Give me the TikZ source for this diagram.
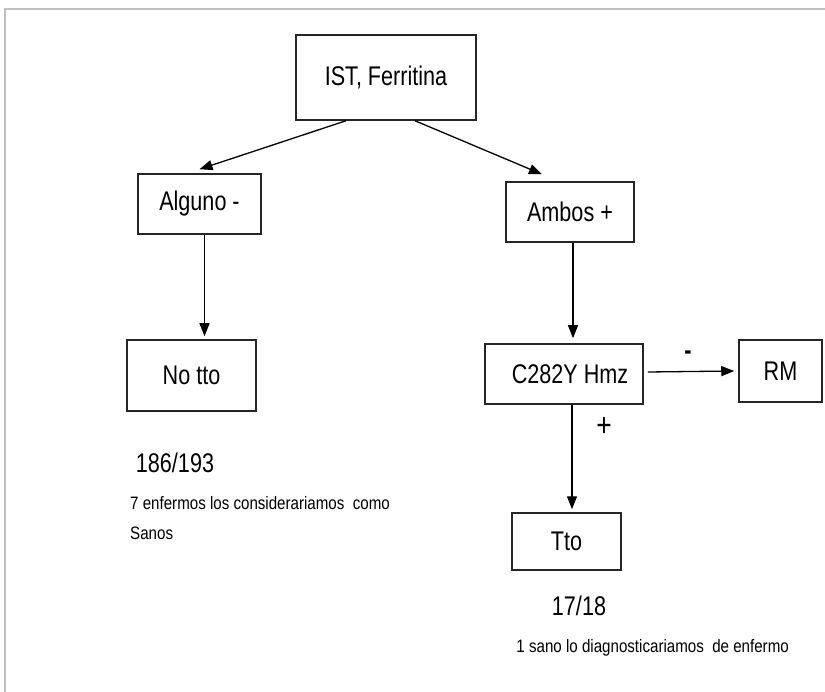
\documentclass[tikz,border=0pt]{standalone}
\usepackage{fontspec}
\setmainfont{Liberation Sans}[FakeStretch=0.8]
\newfontfamily\notefont{Liberation Sans}[FakeStretch=0.84]
\usetikzlibrary{arrows.meta}
\tikzset{
  box/.style={draw=black!85, line width=1.5pt, inner sep=0pt, font=\fontsize{27}{32}\selectfont},
  lbl/.style={inner sep=0pt, font=\fontsize{27}{32}\selectfont},
  note/.style={inner sep=0pt, font=\notefont\fontsize{18}{22}\selectfont},
  arr/.style={line width=1.3pt, -{Triangle[length=13pt,width=10pt]}},
  frameline/.style={draw=black!25, line width=2.5pt}
}
\begin{document}
\begin{tikzpicture}[x=1pt,y=-1pt]
\useasboundingbox (0,0) rectangle (825,692);
\fill[white] (0,0) rectangle (825,692);
\coordinate (fa) at (5,692);
\coordinate (fb) at (5,9);
\coordinate (fc) at (825,9);
\draw[frameline] (fa) -- (fb) -- (fc);

\node[box, minimum width=180pt, minimum height=85pt] (ist) at (386,77.5) {IST, Ferritina};
\node[box, minimum width=123pt, minimum height=60pt] (alg) at (199.5,204) {Alguno -};
\node[box, minimum width=128pt, minimum height=60pt] (amb) at (570,212) {Ambos +};
\node[box, minimum width=129pt, minimum height=71pt] (notto) at (191.5,375.5) {No tto};
\node[box, minimum width=158pt, minimum height=60pt] (c282) at (564,374) {\hspace*{12pt}C282Y Hmz};
\node[box, minimum width=83pt, minimum height=62pt] (rm) at (780.5,371) {RM};
\node[box, minimum width=109pt, minimum height=57pt] (tto) at (566.5,541.5) {Tto};

\node[lbl, font=\bfseries\fontsize{27}{32}\selectfont] (minus) at (688,355) {-};
\node[lbl, font=\fontsize{33}{38}\selectfont] (plus) at (604,427) {+};
\node[lbl] (n186) at (175,463) {186/193};
\node[note, anchor=west] (n7) at (130,503) {7 enfermos los considerariamos\ \ como};
\node[note, anchor=west] (nsan) at (130,533) {Sanos};
\node[lbl] (n17) at (579,606) {17/18};
\node[note, anchor=east] (n1) at (789,648) {1 sano lo diagnosticariamos\ \ de enfermo};

\draw[arr] ([xshift=-40pt]ist.south) -- ([yshift=4pt]alg.north);
\draw[arr] ([xshift=29pt]ist.south) -- ([xshift=-28pt,yshift=7pt]amb.north);
\draw[arr] ([xshift=5pt]alg.south) -- ([xshift=13pt,yshift=3pt]notto.north);
\draw[arr] ([xshift=3pt]amb.south) -- ([xshift=9pt,yshift=5pt]c282.north);
\draw[arr] ([xshift=4pt,yshift=2pt]c282.east) -- ([xshift=-4pt]rm.west);
\draw[arr] ([xshift=8pt]c282.south) -- ([xshift=5.5pt,yshift=3pt]tto.north);
\end{tikzpicture}
\end{document}
